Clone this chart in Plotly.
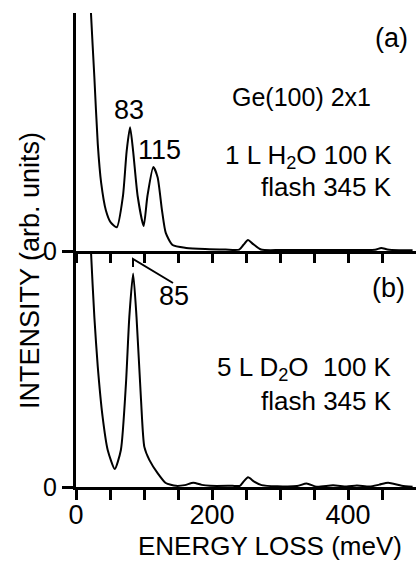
import plotly.graph_objects as go

# ---- data ----
energy_a = [18, 22, 27, 32, 37, 44, 51, 60, 69, 74.5, 79.5, 84, 90.7, 99.5, 105, 113.7,
            120, 126.5, 132, 142, 162, 190, 220, 240, 246, 253, 260, 272, 300, 340, 380,
            420, 440, 449, 458, 475, 495]
intens_a = [130, 100, 73, 45, 28.6, 17, 12, 10, 23, 42, 52, 42, 23, 10.5, 23, 35.3,
            31, 17, 7.6, 2.5, 1.3, 0.8, 0.6, 0.6, 2.5, 4.6, 3.0, 0.6, 0.4, 0.4, 0.4,
            0.4, 0.5, 1.3, 0.6, 0.3, 0.3]

energy_b = [18, 22, 27, 32, 39, 46.6, 57, 66, 73.5, 78.4, 84, 89, 95.6, 100.5, 108, 120,
            132, 147, 160, 172.5, 185, 197, 230, 241, 247, 253, 262, 273, 296, 325, 339,
            354, 378, 398, 413, 432, 446, 459, 479, 495]
intens_b = [130, 100, 72, 51, 30, 15.7, 7.6, 15.7, 44, 72, 90.5, 72, 37, 17, 11.4, 5.9,
            1.7, 0.5, 0.8, 1.8, 0.9, 0.5, 0.5, 0.5, 2.5, 4.1, 2.3, 0.8, 0.3, 0.4, 1.5,
            0.1, 0.7, 0.2, 0.6, 0.2, 1.0, 1.8, 0.5, 0.1]

x_tickvals = [0, 200, 400]
x_ticklabels = ["0", "200", "400"]
x_minor_ticks = [50, 100, 150, 250, 300, 350, 450]
y_ticks = [0]
y_ticklabels = ["0"]

# ---- geometry ----
W, H = 416, 563
L, R, T, B = 76, 0, 13, 76
pw, ph = W - L - R, H - T - B
split = (487 - 251) / ph  # panel b height fraction
XR = [0, (416 - 76) / 0.68]


def px(xp):
    return (xp - L) / pw


def py(yp):
    return (H - B - yp) / ph


FONT = "Liberation Sans, Arial, sans-serif"
fig = go.Figure()
fig.add_trace(go.Scatter(x=energy_a, y=intens_a, mode="lines", xaxis="x2", yaxis="y2",
                         line=dict(color="black", width=2, shape="spline", smoothing=0.6),
                         showlegend=False, hoverinfo="skip"))
fig.add_trace(go.Scatter(x=energy_b, y=intens_b, mode="lines", xaxis="x", yaxis="y",
                         line=dict(color="black", width=2, shape="spline", smoothing=0.6),
                         showlegend=False, hoverinfo="skip"))

ax_common = dict(range=XR, showgrid=False, zeroline=False, showline=True,
                 linecolor="black", linewidth=3, tickcolor="black", tickwidth=2.5,
                 tickvals=x_tickvals)
fig.update_layout(
    width=W, height=H,
    margin=dict(l=L, r=R, t=T, b=B, pad=0),
    paper_bgcolor="white", plot_bgcolor="white",
    font=dict(family=FONT, color="black"),
    xaxis=dict(**ax_common, domain=[0, 1], anchor="y", ticks="outside", ticklen=10,
               ticktext=x_ticklabels, tickfont=dict(size=27, family=FONT),
               ticklabelstandoff=-8,
               minor=dict(tickvals=x_minor_ticks, ticks="outside", ticklen=10,
                          tickwidth=2.5, tickcolor="black", showgrid=False)),
    xaxis2=dict(**ax_common, domain=[0, 1], anchor="y2", ticks="outside", ticklen=9,
                showticklabels=False,
                minor=dict(tickvals=x_minor_ticks, ticks="outside", ticklen=9,
                           tickwidth=2.5, tickcolor="black", showgrid=False)),
    xaxis3=dict(**ax_common, domain=[0, 1], anchor="y2", overlaying="x2", side="top",
                ticks="inside", ticklen=10, showticklabels=False,
                minor=dict(tickvals=x_minor_ticks, ticks="inside", ticklen=10,
                           tickwidth=2.5, tickcolor="black", showgrid=False)),
    yaxis=dict(domain=[0, split], range=[0, 100], showgrid=False, zeroline=False,
               showline=True, linecolor="black", linewidth=3, ticks="outside",
               ticklen=11, tickwidth=2.5, tickcolor="black", tickvals=y_ticks,
               ticktext=y_ticklabels, tickfont=dict(size=25, family=FONT)),
    yaxis2=dict(domain=[split, 1], range=[0, 100], showgrid=False, zeroline=False,
                showline=True, linecolor="black", linewidth=3, ticks="outside",
                ticklen=11, tickwidth=2.5, tickcolor="black", tickvals=y_ticks,
                ticktext=y_ticklabels, tickfont=dict(size=25, family=FONT)),
)


def ann(text, x, y, size=27, xanchor="center", angle=0, yanchor="middle"):
    fig.add_annotation(text=text, x=px(x), y=py(y), xref="paper", yref="paper",
                       showarrow=False, xanchor=xanchor, yanchor=yanchor,
                       textangle=angle, font=dict(size=size, family=FONT, color="black"))


ann("(a)", 391, 38)
ann("Ge(100) 2x1", 301, 97, size=25)
ann("83", 129, 110)
ann("115", 159, 150)
ann("1 L H<sub>2</sub>O 100 K", 394, 157, xanchor="right", size=26)
ann("flash 345 K", 394, 187, xanchor="right", size=26)
ann("(b)", 388, 288)
ann("85", 174, 296)
ann("5 L D<sub>2</sub>O  100 K", 394, 368, xanchor="right", size=26)
ann("flash 345 K", 394, 401, xanchor="right", size=26)
ann("INTENSITY (arb. units)", 30, 271, angle=-90)
ann("ENERGY LOSS (meV)", 270, 563, yanchor="bottom", size=26)

# leader line for 85
fig.add_shape(type="path", xref="paper", yref="paper",
              path=f"M {px(133)} {py(267)} L {px(133)} {py(259)} L {px(173)} {py(283)}",
              line=dict(color="black", width=2))

fig.write_html("out.html")
